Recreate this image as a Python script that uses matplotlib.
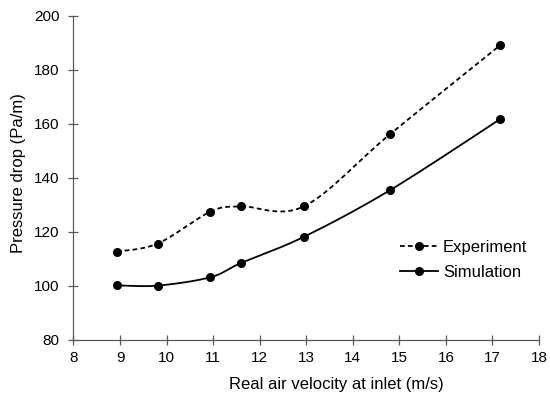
import numpy as np
import matplotlib.pyplot as plt
from matplotlib.lines import Line2D

plt.rcParams['font.family'] = ['Liberation Sans', 'DejaVu Sans']

velocity = [8.93, 9.81, 10.94, 11.59, 12.95, 14.81, 17.17]
experiment = [112.6, 115.6, 127.4, 129.4, 129.4, 156.3, 189.2]
simulation = [100.1, 100.0, 103.1, 108.3, 118.1, 135.5, 161.8]


def smooth(x, y, n=30):
    # excel style smoothed line (catmull-rom bezier)
    x = np.asarray(x, float)
    y = np.asarray(y, float)
    p = np.column_stack([x, y])
    p = np.vstack([p[0], p, p[-1]])
    t = np.linspace(0, 1, n)[:, None]
    out = []
    for i in range(1, len(p) - 2):
        p0, p1, p2, p3 = p[i - 1], p[i], p[i + 1], p[i + 2]
        c1 = p1 + (p2 - p0) / 6
        c2 = p2 - (p3 - p1) / 6
        seg = (1 - t) ** 3 * p1 + 3 * (1 - t) ** 2 * t * c1 + 3 * (1 - t) * t ** 2 * c2 + t ** 3 * p2
        out.append(seg if i == 1 else seg[1:])
    out = np.vstack(out)
    return out[:, 0], out[:, 1]


fig = plt.figure(figsize=(5.5, 3.99), dpi=100)
ax = fig.add_axes([0.1336, 0.149, 0.8464, 0.811])

lw = 1.3
ms = 5.5
ex, ey = smooth(velocity, experiment)
sx, sy = smooth(velocity, simulation)
ax.plot(ex, ey, color='black', lw=lw, ls=(0, (2.6, 1.8)))
ax.plot(sx, sy, color='black', lw=lw)
ax.plot(velocity, experiment, 'o', color='black', ms=ms)
ax.plot(velocity, simulation, 'o', color='black', ms=ms)

ax.set_xlim(8, 18)
ax.set_ylim(80, 200)
ax.set_xticks(range(8, 19))
ax.set_yticks(range(80, 201, 20))

for s in ['top', 'right']:
    ax.spines[s].set_visible(False)
for s in ['left', 'bottom']:
    ax.spines[s].set_color('#595959')
    ax.spines[s].set_linewidth(0.9)
ax.tick_params(direction='inout', length=7, width=0.9, color='#595959', labelsize=11)
ax.tick_params(axis='x', pad=5)
ax.tick_params(axis='y', pad=6.5)

ax.set_xlabel('Real air velocity at inlet (m/s)', fontsize=12)
ax.set_ylabel('Pressure drop (Pa/m)', fontsize=12)
ax.xaxis.set_label_coords(0.565, -0.117)
ax.yaxis.set_label_coords(-0.103, 0.516)

handles = [Line2D([], [], color='black', lw=lw, ls=(0, (2.6, 1.8)), marker='o', ms=ms),
           Line2D([], [], color='black', lw=lw, marker='o', ms=ms)]
ax.legend(handles, ['Experiment', 'Simulation'], loc='center left', bbox_to_anchor=(0.701, 0.246),
          frameon=False, fontsize=12, numpoints=1, handlelength=2.28, handletextpad=0.3,
          labelspacing=0.6, borderpad=0, borderaxespad=0)

fig.savefig('out.png', dpi=100)
